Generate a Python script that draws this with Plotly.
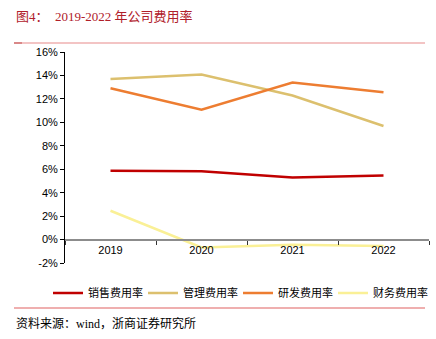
import plotly.graph_objects as go

W, H = 436, 339
years = ["2019", "2020", "2021", "2022"]
series_names = ["销售费用率", "管理费用率", "研发费用率", "财务费用率"]
sales = [5.86, 5.83, 5.30, 5.47]
admin = [13.70, 14.08, 12.29, 9.69]
rnd = [12.90, 11.07, 13.40, 12.57]
finance = [2.46, -0.68, -0.45, -0.54]
colors = ["#C00000", "#DCC06E", "#ED7D31", "#FAF096"]
y_ticks = list(range(-2, 17, 2))

# plot-area geometry in pixels
L, R, T, B = 65, 429, 52, 263
ML, MR, MT, MB = L, W - R, T, H - B
PW, PH = R - L, B - T


def px_x(px):
    return (px - L) / PW


def px_y(py):
    return (B - py) / PH


fig = go.Figure()
for name, vals, col in zip(series_names, [sales, admin, rnd, finance], colors):
    fig.add_trace(go.Scatter(x=years, y=vals, name=name, mode="lines",
                             line=dict(color=col, width=2.5)))

y_min, y_max = -2, 16
fig.update_layout(
    width=W, height=H,
    margin=dict(l=ML, r=MR, t=MT, b=MB),
    paper_bgcolor="white", plot_bgcolor="white",
    font=dict(family="Liberation Sans, Arial, Noto Sans CJK SC", size=11, color="#000"),
    showlegend=True,
    legend=dict(orientation="h", x=px_x(48), y=px_y(293), xanchor="left", yanchor="middle",
                font=dict(family="Liberation Serif, Noto Sans CJK SC", size=11, color="#000"),
                itemwidth=30, entrywidth=50, entrywidthmode="pixels",
                tracegroupgap=0, bgcolor="rgba(0,0,0,0)"),
    xaxis=dict(type="category", range=[-0.5, 3.5], anchor="free",
               position=(0 - y_min) / (y_max - y_min),
               showline=True, linecolor="#8C8C8C", linewidth=2,
               ticks="outside", tickson="boundaries", ticklen=4, tickcolor="#333",
               showgrid=False, zeroline=False, tickfont=dict(size=11)),
    yaxis=dict(range=[y_min, y_max], tickvals=y_ticks,
               ticktext=[f"{v}%" for v in y_ticks],
               showline=True, linecolor="#000", linewidth=1,
               ticks="outside", ticklen=4, tickcolor="#000",
               showgrid=False, zeroline=False, tickfont=dict(size=11)),
)

# header and footer rules
fig.add_shape(type="line", xref="paper", yref="paper",
              x0=px_x(14), x1=px_x(425), y0=px_y(43), y1=px_y(43),
              line=dict(color="#E88A8A", width=1.2))
fig.add_shape(type="line", xref="paper", yref="paper",
              x0=px_x(14), x1=px_x(22), y0=px_y(43), y1=px_y(43),
              line=dict(color="#C86060", width=1.2))
fig.add_shape(type="line", xref="paper", yref="paper",
              x0=px_x(14), x1=px_x(425), y0=px_y(308), y1=px_y(308),
              line=dict(color="#E06060", width=1.2))

fig.add_annotation(text="图4：  2019-2022 年公司费用率", xref="paper", yref="paper",
                   x=px_x(14), y=px_y(17), xanchor="left", yanchor="middle",
                   showarrow=False,
                   font=dict(family="Liberation Serif, Noto Sans CJK SC", size=13, color="#B0202A"))
fig.add_annotation(text="资料来源：wind，浙商证券研究所", xref="paper", yref="paper",
                   x=px_x(14), y=px_y(323), xanchor="left", yanchor="middle",
                   showarrow=False,
                   font=dict(family="Liberation Serif, Noto Sans CJK SC", size=12, color="#000"))

fig.write_html("out.html")
